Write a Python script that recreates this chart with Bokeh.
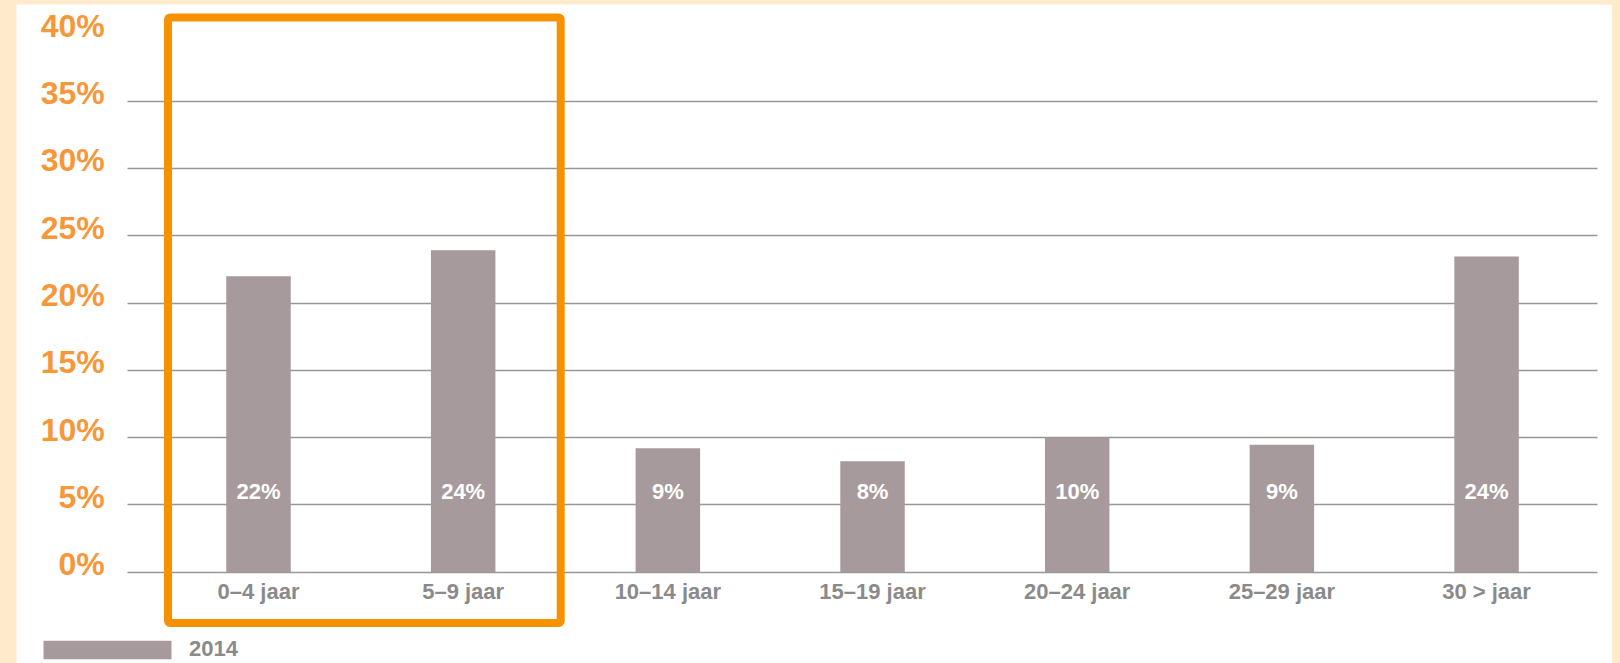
from bokeh.plotting import figure
from bokeh.embed import file_html
from bokeh.resources import INLINE
from bokeh.models import (Range1d, FixedTicker, BoxAnnotation, Legend, LegendItem,
                          ColumnDataSource)
from bokeh.core.properties import value

categories = ["0–4 jaar", "5–9 jaar", "10–14 jaar", "15–19 jaar", "20–24 jaar", "25–29 jaar", "30 > jaar"]
values_2014 = [22.0, 23.93, 9.21, 8.25, 10.0, 9.47, 23.46]
bar_labels = ["22%", "24%", "9%", "8%", "10%", "9%", "24%"]
series_name = "2014"
y_ticks = [0, 5, 10, 15, 20, 25, 30, 35, 40]
y_tick_labels = ["0%", "5%", "10%", "15%", "20%", "25%", "30%", "35%", "40%"]

PEACH = "#FFEACC"
BAR = "#A79A9C"
ORANGE = "#F69200"
LABEL_ORANGE = "#F6973A"
GRAY_TEXT = "#8A8A8A"
FONT = "Liberation Sans"

# plotting area (data units) where the gridlines run
X_LO, X_HI = -0.640, 6.542

idx = list(range(len(categories)))
src = ColumnDataSource(dict(x=idx, top=values_2014, lab=bar_labels, cat=categories))
ysrc = ColumnDataSource(dict(y=[t + 0.6 for t in y_ticks], lab=y_tick_labels))

p = figure(width=1596, height=659, output_backend="svg", toolbar_location=None,
           x_range=Range1d(-1.1823, 6.6153), y_range=Range1d(-6.784, 42.186),
           x_axis_location=None, y_axis_location=None,
           min_border=0, background_fill_color="white",
           border_fill_color="white", outline_line_color=None)

r = p.vbar(x="x", top="top", bottom=0, width=0.315, source=src,
           fill_color=BAR, line_color=None)

# value labels inside the bars
p.text(x="x", y=6.0, text="lab", source=src, text_color="white",
       text_font=value(FONT), text_font_style="bold", text_font_size="22px",
       text_align="center", text_baseline="middle")

# category labels under the bars
p.text(x="x", y=-1.46, text="cat", source=src, text_color=GRAY_TEXT,
       text_font=value(FONT), text_font_style="bold", text_font_size="22px",
       text_align="center", text_baseline="middle")

# percentage labels on the left, slightly above their gridlines
p.text(x=-0.751, y="y", text="lab", source=ysrc, text_color=LABEL_ORANGE,
       text_font=value(FONT), text_font_style="bold", text_font_size="32px",
       text_align="right", text_baseline="middle")

p.xgrid.grid_line_color = None
p.ygrid.ticker = FixedTicker(ticks=y_ticks[:-1])
p.ygrid.cross_bounds = (X_LO, X_HI)
p.ygrid.grid_line_color = "#979797"
p.ygrid.grid_line_width = 1.6

# highlight box around the first two age groups
box = BoxAnnotation(left=-0.442, right=1.4765, bottom=-3.775, top=41.22,
                    fill_color=None, fill_alpha=0, line_color=ORANGE,
                    line_alpha=1.0, line_width=8, border_radius=2)
p.add_layout(box)

legend = Legend(items=[LegendItem(label=series_name, renderers=[r])],
                location=(11, 1), padding=0, margin=0, spacing=0,
                glyph_width=160, glyph_height=23, label_height=23,
                label_standoff=2, border_line_color=None,
                background_fill_alpha=0, label_text_color=GRAY_TEXT,
                label_text_font=FONT, label_text_font_style="bold",
                label_text_font_size="22px", label_text_baseline="middle")
p.add_layout(legend, "center")

html = file_html(p, INLINE)
html = html.replace("<body>", '<body style="margin:4px 0 0 16px;background-color:%s;">' % PEACH)
open("out.html", "w").write(html)
